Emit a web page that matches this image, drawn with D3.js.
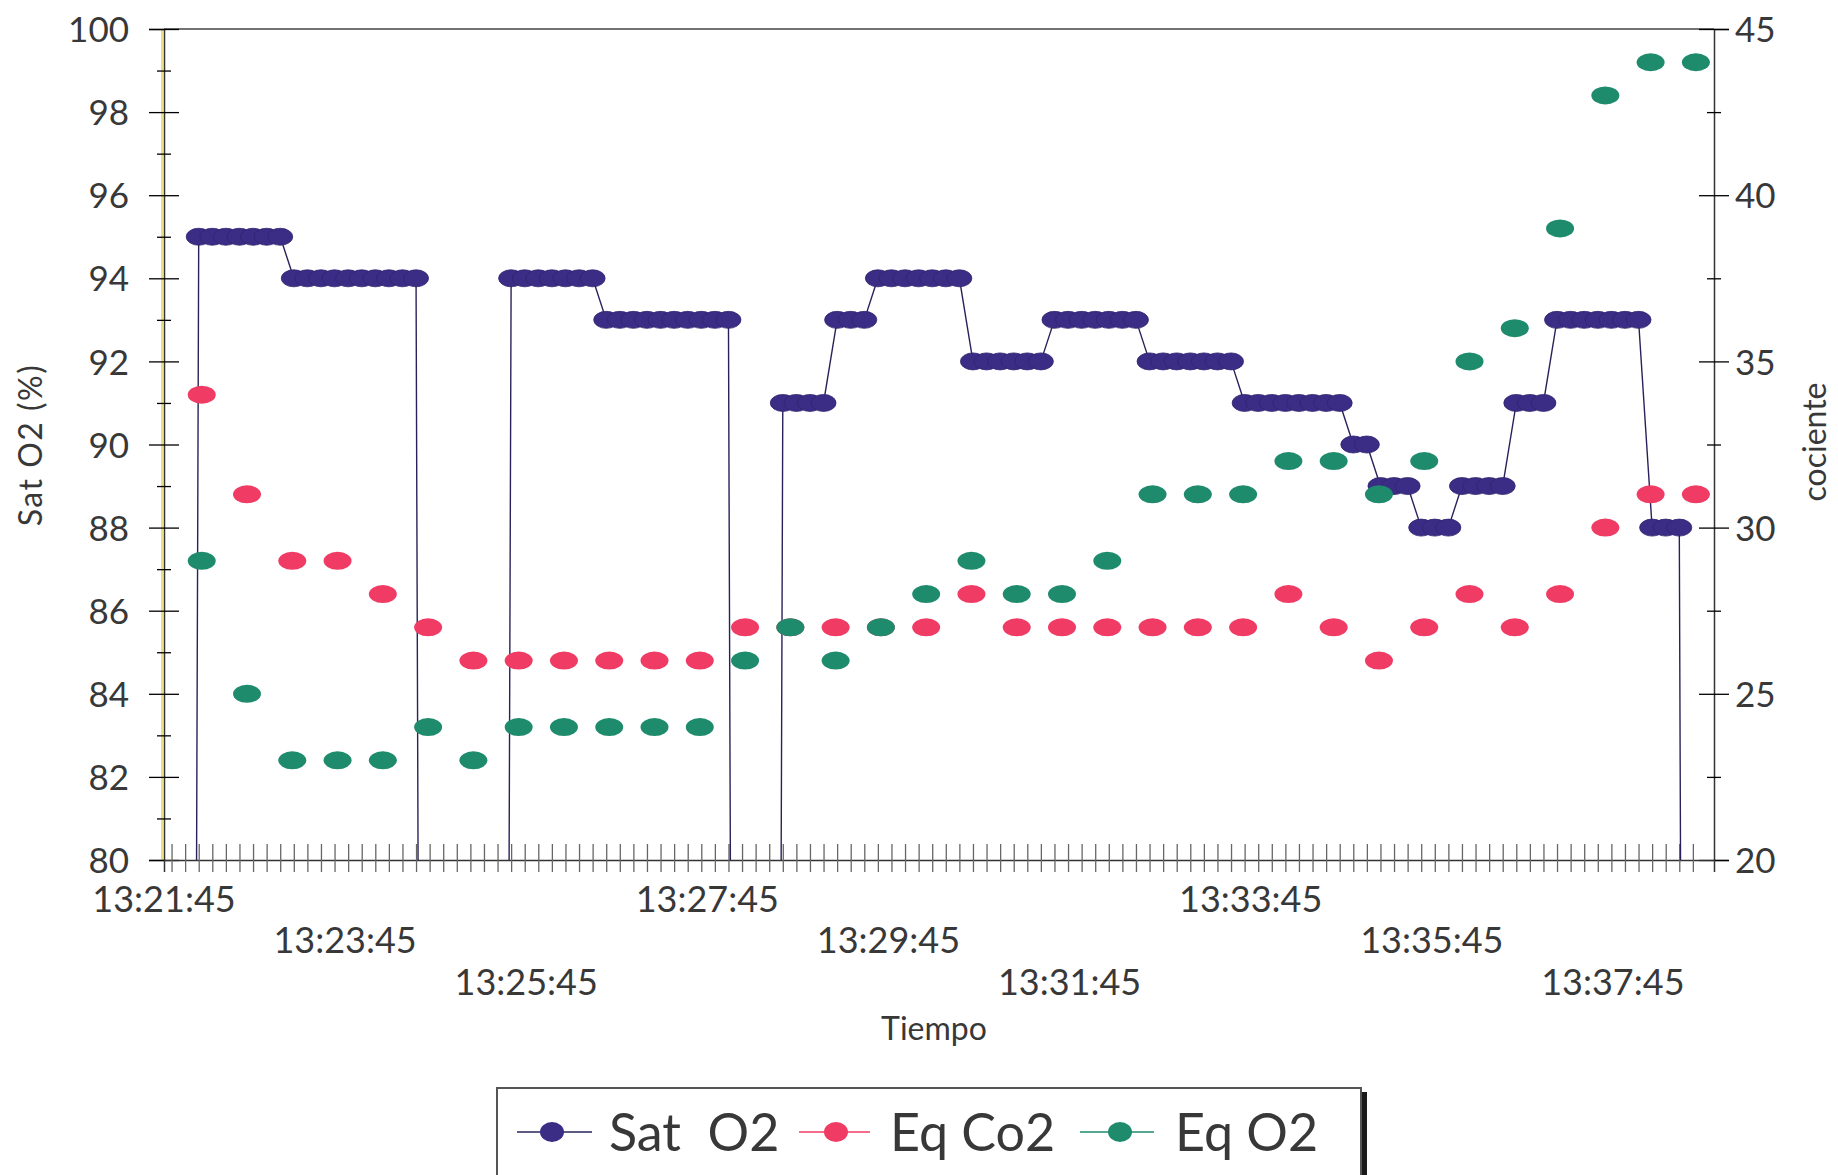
<!DOCTYPE html>
<html>
<head>
<meta charset="utf-8">
<script src="https://cdn.jsdelivr.net/npm/d3@7"></script>
<style>
html,body{margin:0;padding:0;background:#ffffff;}
svg{display:block;}
text{font-family:Lato,"Open Sans","DejaVu Sans",sans-serif;fill:#383838;}
</style>
</head>
<body>
<svg id="chart" width="1838" height="1175"></svg>
<script>
// ---------- data ----------
const startClock = "13:21:45";
const satStartSec = 5;     // first Sat O2 sample (seconds after start)
const satStepSec = 9;      // Sat O2 sampling step
// Sat O2 (%) — 0 means no reading (falls off the bottom of the chart)
const satO2 = [
  0,0,
  95,95,95,95,95,95,95,
  94,94,94,94,94,94,94,94,94,94,
  0,0,0,0,0,0,
  94,94,94,94,94,94,94,
  93,93,93,93,93,93,93,93,93,93,
  0,0,0,
  91,91,91,91,
  93,93,93,
  94,94,94,94,94,94,94,
  92,92,92,92,92,92,
  93,93,93,93,93,93,93,
  92,92,92,92,92,92,92,
  91,91,91,91,91,91,91,91,
  90,90,
  89,89,89,
  88,88,88,
  89,89,89,89,
  91,91,91,
  93,93,93,93,93,93,93,
  88,88,88,
  0
];
const eqStartSec = 25;     // first Eq sample
const eqStepSec = 30;
const eqCo2 = [34,31,29,29,28,27,26,26,26,26,26,26,27,27,27,27,27,28,27,27,27,27,27,27,28,27,26,27,28,27,28,30,31,31];
const eqO2  = [29,25,23,23,23,24,23,24,24,24,24,24,26,27,26,27,28,29,28,28,29,31,31,31,32,32,31,32,35,36,39,43,44,44];
const timeLabels = ["13:21:45","13:23:45","13:25:45","13:27:45","13:29:45","13:31:45","13:33:45","13:35:45","13:37:45"];
const leftTicks  = [80,82,84,86,88,90,92,94,96,98,100];
const leftMinor  = [81,83,85,87,89,91,93,95,97,99];
const rightTicks = [20,25,30,35,40,45];
const rightMinor = [22.5,27.5,32.5,37.5,42.5];
const seriesNames = ["Sat\u00a0\u00a0O2","Eq Co2","Eq O2"];
const seriesColors = ["#3b2c86","#f03c64","#1f8b6d"];

// ---------- layout ----------
const P = {left:164, right:1714, top:29, bottom:860};
const toSec = s => { const [h,m,ss] = s.split(":").map(Number); return h*3600+m*60+ss; };
const t0 = toSec(startClock);
const svg = d3.select("#chart");

const x  = d3.scaleLinear().domain([0,1027]).range([P.left,P.right]);
const yL = d3.scaleLinear().domain([80,100]).range([P.bottom,P.top]);
const yR = d3.scaleLinear().domain([20,45]).range([P.bottom,P.top]);

const satData = satO2.map((v,i)=>({t:satStartSec+i*satStepSec, v}));
const co2Data = eqCo2.map((v,i)=>({t:eqStartSec+i*eqStepSec, v}));
const o2Data  = eqO2.map((v,i)=>({t:eqStartSec+i*eqStepSec, v}));

svg.append("defs").append("clipPath").attr("id","plotClip")
  .append("rect").attr("x",P.left).attr("y",P.top)
  .attr("width",P.right-P.left).attr("height",P.bottom-P.top);

// top frame line
svg.append("line").attr("x1",P.left).attr("x2",P.right).attr("y1",P.top).attr("y2",P.top)
  .attr("stroke","#444").attr("stroke-width",1.5);

// ---------- left axis ----------
svg.append("line").attr("x1",P.left-2).attr("x2",P.left-2).attr("y1",P.top).attr("y2",P.bottom)
  .attr("stroke","#e6d35a").attr("stroke-width",1.5);
const gL = svg.append("g").attr("transform",`translate(${P.left},0)`)
  .call(d3.axisLeft(yL).tickValues(leftTicks).tickSize(15).tickPadding(20).tickFormat(d3.format("d")));
gL.selectAll(".tick line").attr("x1",15);
const gLm = svg.append("g").attr("transform",`translate(${P.left},0)`)
  .call(d3.axisLeft(yL).tickValues(leftMinor).tickSize(7).tickFormat(""));
gLm.selectAll(".tick line").attr("x1",7);
gLm.select(".domain").remove();

// ---------- right axis ----------
const gR = svg.append("g").attr("transform",`translate(${P.right},0)`)
  .call(d3.axisRight(yR).tickValues(rightTicks).tickSize(15).tickPadding(6).tickFormat(d3.format("d")));
gR.selectAll(".tick line").attr("x1",-15);
const gRm = svg.append("g").attr("transform",`translate(${P.right},0)`)
  .call(d3.axisRight(yR).tickValues(rightMinor).tickSize(7).tickFormat(""));
gRm.selectAll(".tick line").attr("x1",-7);
gRm.select(".domain").remove();

// ---------- bottom axis ----------
const gB = svg.append("g").attr("transform",`translate(0,${P.bottom})`)
  .call(d3.axisBottom(x).tickValues(satData.map(d=>d.t)).tickSize(12).tickFormat(""));
gB.selectAll(".tick line").attr("y1",-16).attr("stroke","#666");

[gL,gR,gB,gLm,gRm].forEach(g=>{
  g.select(".domain").attr("stroke","#333").attr("stroke-width",1.5);
  g.selectAll(".tick line").attr("stroke-width",1.3);
  g.selectAll("text").style("font-size","35px").attr("fill","#383838");
});
gL.selectAll(".tick text").attr("dy","0.36em");
gR.selectAll(".tick text").attr("dy","0.36em");

// time labels, staggered on three rows
const rowY = [912,953,995];
svg.append("g").selectAll("text").data(timeLabels).join("text")
  .attr("x",d=>x(toSec(d)-t0))
  .attr("y",(d,i)=>rowY[i%3])
  .attr("text-anchor","middle")
  .style("font-size","36px")
  .text(d=>d);

// axis titles
svg.append("text").attr("transform","translate(42,445) rotate(-90)")
  .attr("text-anchor","middle").style("font-size","32px").style("letter-spacing","1.5px").text("Sat O2 (%)");
svg.append("text").attr("transform","translate(1826,442) rotate(-90)")
  .attr("text-anchor","middle").style("font-size","32px").text("cociente");
svg.append("text").attr("x",934).attr("y",1040)
  .attr("text-anchor","middle").style("font-size","32px").text("Tiempo");

// ---------- series ----------
const plot = svg.append("g").attr("clip-path","url(#plotClip)");

const satLine = d3.line().x(d=>x(d.t)).y(d=>yL(d.v));
plot.append("path").datum(satData).attr("d",satLine)
  .attr("fill","none").attr("stroke","#27235a").attr("stroke-width",1.4);

plot.append("g").selectAll("ellipse").data(satData.filter(d=>d.v>0)).join("ellipse")
  .attr("cx",d=>x(d.t)).attr("cy",d=>yL(d.v)).attr("rx",12.5).attr("ry",8.5)
  .attr("fill",seriesColors[0]).attr("stroke","#30246f").attr("stroke-width",0.8);

plot.append("g").selectAll("ellipse").data(co2Data).join("ellipse")
  .attr("cx",d=>x(d.t)).attr("cy",d=>yR(d.v)).attr("rx",14).attr("ry",9)
  .attr("fill",seriesColors[1]);

plot.append("g").selectAll("ellipse").data(o2Data).join("ellipse")
  .attr("cx",d=>x(d.t)).attr("cy",d=>yR(d.v)).attr("rx",14).attr("ry",9)
  .attr("fill",seriesColors[2]);

// ---------- legend ----------
const lg = svg.append("g");
lg.append("rect").attr("x",1358).attr("y",1092).attr("width",9).attr("height",90).attr("fill","#1a1a1a");
lg.append("rect").attr("x",497).attr("y",1088).attr("width",864).attr("height",100)
  .attr("fill","#fff").attr("stroke","#555").attr("stroke-width",2);
const legendItems = [
  {lx1:517, lx2:592, mx:552, tx:609},
  {lx1:799, lx2:870, mx:836, tx:890},
  {lx1:1080,lx2:1154,mx:1120,tx:1175}
];
legendItems.forEach((it,i)=>{
  lg.append("line").attr("x1",it.lx1).attr("x2",it.lx2).attr("y1",1132).attr("y2",1132)
    .attr("stroke",i===0?"#27235a":seriesColors[i]).attr("stroke-width",1.5);
  lg.append("ellipse").attr("cx",it.mx).attr("cy",1132).attr("rx",12).attr("ry",10)
    .attr("fill",seriesColors[i]);
  lg.append("text").attr("x",it.tx).attr("y",1151).style("font-size","52px").text(seriesNames[i]);
});
</script>
</body>
</html>
